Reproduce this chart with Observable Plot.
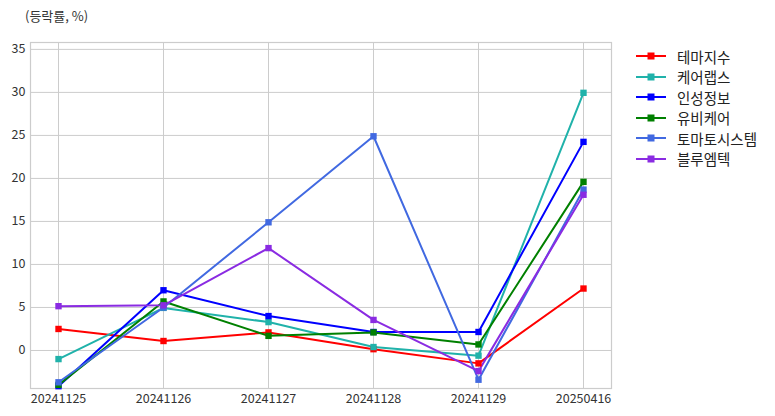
<!DOCTYPE html>
<html><head><meta charset="utf-8">
<script src="https://cdn.jsdelivr.net/npm/d3@7"></script>
<script src="https://cdn.jsdelivr.net/npm/@observablehq/plot@0.6"></script>
<style>
body{margin:0;background:#fff;font-family:"Noto Sans CJK KR","Noto Sans",sans-serif;}
#wrap{position:relative;width:775px;height:416px;}
#title{position:absolute;left:25px;top:6px;font-size:13px;color:#333;}
#legend{position:absolute;left:636px;top:46px;font-size:14.5px;color:#222;}
.li{display:flex;align-items:center;height:20.5px;}
.li svg{margin-right:11px;}
</style></head>
<body><div id="wrap"><div id="title">(등락률, %)</div><div id="legend"></div><div id="chart"></div></div>
<script>
const dates = ["20241125","20241126","20241127","20241128","20241129","20250416"];
const seriesNames = ["테마지수","케어랩스","인성정보","유비케어","토마토시스템","블루엠텍"];
const seriesColors = ["#ff0000","#20b2aa","#0000ff","#008000","#4169e1","#8a2be2"];
const 테마지수 = [2.5, 1.1, 2.1, 0.15, -1.5, 7.2];
const 케어랩스 = [-1.0, 4.95, 3.3, 0.4, -0.6, 29.95];
const 인성정보 = [-4.15, 7.0, 4.0, 2.15, 2.15, 24.25];
const 유비케어 = [-4.0, 5.7, 1.7, 2.1, 0.7, 19.6];
const 토마토시스템 = [-3.7, 5.0, 14.9, 24.9, -3.4, 18.7];
const 블루엠텍 = [5.15, 5.25, 11.9, 3.55, -2.4, 18.1];
const yTicks = [0,5,10,15,20,25,30,35];

const values = [테마지수, 케어랩스, 인성정보, 유비케어, 토마토시스템, 블루엠텍];
const data = [];
seriesNames.forEach((s,i)=>dates.forEach((d,j)=>data.push({series:s,date:d,value:values[i][j]})));

const chart = Plot.plot({
  width:775, height:416,
  marginTop:42, marginBottom:28, marginLeft:30, marginRight:164,
  style:{fontFamily:'"Noto Sans CJK KR","Noto Sans",sans-serif',fontSize:"12px",color:"#333"},
  x:{type:"point",domain:dates,padding:0.25,label:null,tickSize:0,tickPadding:6},
  y:{domain:[-4.42,35.8],ticks:yTicks,label:null,tickSize:0,tickPadding:5},
  color:{domain:seriesNames,range:seriesColors},
  marks:[
    Plot.gridX(dates,{stroke:"#cccccc",strokeOpacity:1,strokeWidth:1}),
    Plot.gridY(yTicks,{stroke:"#cccccc",strokeOpacity:1,strokeWidth:1}),
    Plot.frame({stroke:"#cccccc",strokeWidth:1.2}),
    Plot.axisX({tickSize:0,tickPadding:6,fontSize:12.5}),
    Plot.axisY(yTicks,{tickSize:0,tickPadding:5,fontSize:12.5}),
    Plot.line(data,{x:"date",y:"value",z:"series",stroke:"series",strokeWidth:2}),
    Plot.dot(data,{x:"date",y:"value",fill:"series",symbol:"square",r:3.6,stroke:"none"})
  ]
});
document.getElementById("chart").appendChild(chart);

const lg = document.getElementById("legend");
seriesNames.forEach((s,i)=>{
  const row = document.createElement("div"); row.className="li";
  row.innerHTML = `<svg width="30" height="10"><line x1="0" x2="30" y1="5" y2="5" stroke="${seriesColors[i]}" stroke-width="2"/><rect x="11.5" y="1.5" width="7" height="7" fill="${seriesColors[i]}"/></svg><span>${s}</span>`;
  lg.appendChild(row);
});
</script></body></html>
